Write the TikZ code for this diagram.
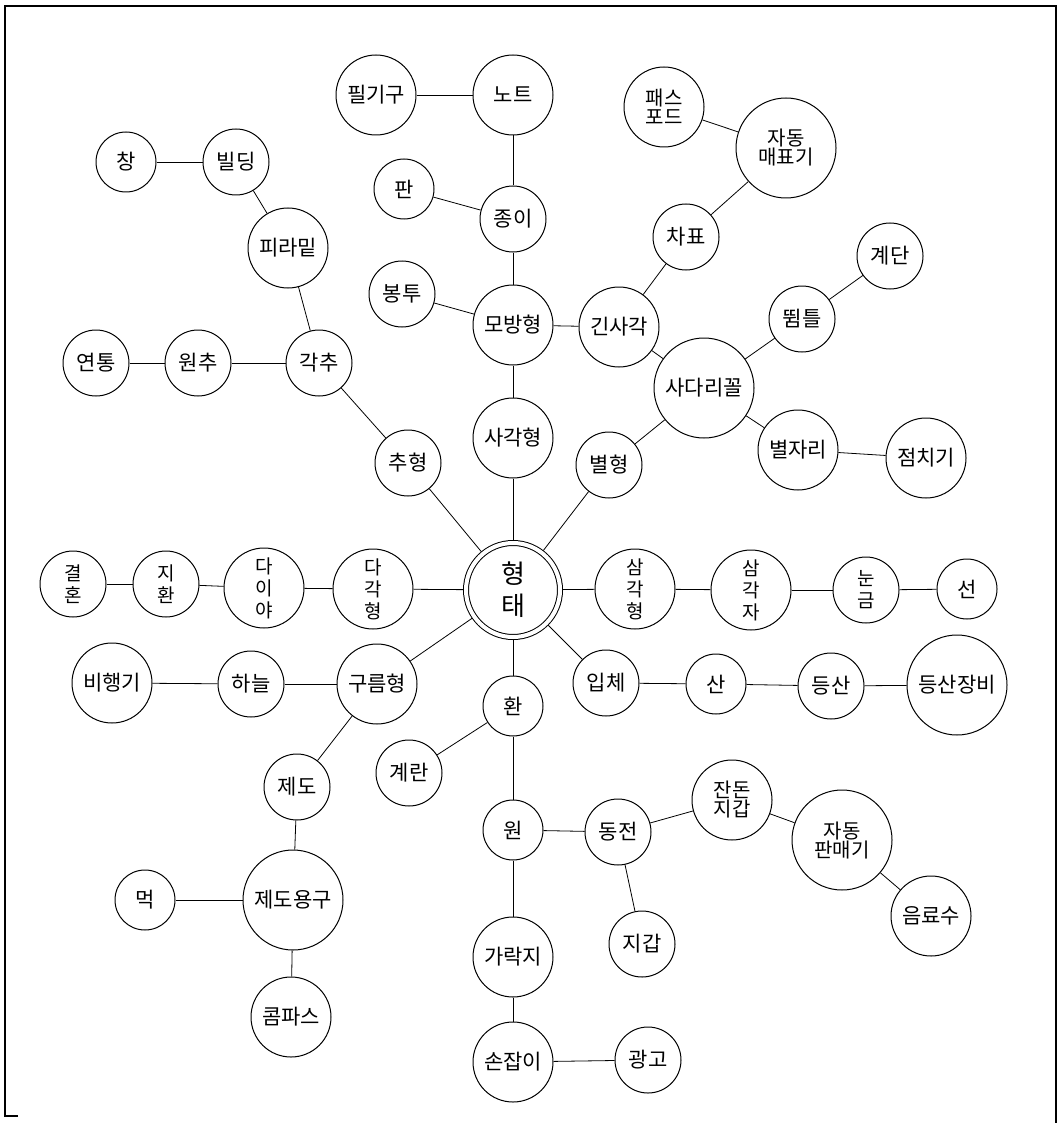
\documentclass[tikz,border=0pt]{standalone}
\usepackage{fontspec}
\setmainfont{Noto Sans CJK KR}
\usetikzlibrary{positioning}

\begin{document}
\begin{tikzpicture}[
    x=1pt, y=-1pt,
    every node/.style={font=\fontsize{21}{23}\selectfont},
    bubble/.style={circle, draw=black, line width=1pt, inner sep=0pt, text centered, align=center},
    bubtiny/.style={bubble, minimum size=60pt},
    bubsmall/.style={bubble, minimum size=66pt},
    bubmid/.style={bubble, minimum size=80pt},
    bubbig/.style={bubble, minimum size=100pt},
    vert/.style={font=\fontsize{19}{22}\selectfont},
    twoline/.style={font=\fontsize{20}{19}\selectfont},
    hub/.style={circle, draw=black, line width=1pt, double, double distance=4pt, minimum size=94pt, outer sep=3pt, align=center, font=\fontsize{26}{32}\selectfont},
    link/.style={line width=0.8pt}
]
\useasboundingbox (0,0) rectangle (1059,1123);
\fill[white] (0,0) rectangle (1059,1123);
\draw[line width=1.2pt] (18,1116) -- (5,1116) -- (5,6) -- (1056,6) -- (1056,1123);

\node[hub] (form) at (513,590) {형\\태};

\node[bubmid] (pilgigu) at (376,95) {필기구};
\node[bubmid] (note) at (513,95) {노트};
\node[bubtiny] (pan) at (404,189) {판};
\node[bubsmall] (paper) at (513,219) {종이};
\node[bubsmall] (envelope) at (402,294) {봉투};
\node[bubmid] (mobang) at (513,325) {모방형};
\node[bubmid] (square) at (513,438) {사각형};
\node[bubmid] (longsq) at (619,327) {긴사각};
\node[bubsmall] (ticket) at (686,237) {차표};
\node[bubbig, twoline] (ticketmachine) at (786,148) {자동\\매표기};
\node[bubmid, twoline] (passport) at (664,107) {패스\\포드};
\node[bubbig] (trapezoid) at (704,388) {사다리꼴};
\node[bubsmall] (vault) at (802,319) {뜀틀};
\node[bubsmall] (stairs) at (890,256) {계단};
\node[bubsmall] (star) at (609,465) {별형};
\node[bubmid] (constellation) at (798,450) {별자리};
\node[bubmid] (fortune) at (926,458) {점치기};

\node[bubtiny] (window) at (126,162) {창};
\node[bubsmall] (building) at (236,162) {빌딩};
\node[bubmid] (pyramid) at (288,248) {피라밑};
\node[bubsmall] (pyramidal) at (319,363) {각추};
\node[bubsmall] (cone) at (198,363) {원추};
\node[bubsmall] (chimney) at (96,363) {연통};
\node[bubsmall] (pendulum) at (408,463) {추형};

\node[bubsmall, vert] (wedding) at (73,584) {결\\혼};
\node[bubsmall, vert] (ringfinger) at (166,584) {지\\환};
\node[bubmid, vert] (diamond) at (264,588) {다\\이\\야};
\node[bubmid, vert] (polygon) at (373,589) {다\\각\\형};
\node[bubmid, vert] (triangle) at (635,589) {삼\\각\\형};
\node[bubmid, vert] (setsquare) at (751,590) {삼\\각\\자};
\node[bubsmall, vert] (scale) at (866,590) {눈\\금};
\node[bubtiny] (line) at (967,589) {선};

\node[bubsmall] (solid) at (606,683) {입체};
\node[bubtiny] (mountain) at (716,684) {산};
\node[bubsmall] (hiking) at (831,686) {등산};
\node[bubbig] (gear) at (957,685) {등산장비};

\node[bubmid] (airplane) at (112,683) {비행기};
\node[bubsmall] (sky) at (251,684) {하늘};
\node[bubmid] (cloud) at (377,684) {구름형};
\node[bubsmall] (drafting) at (297,787) {제도};
\node[bubbig] (tools) at (293,900) {제도용구};
\node[bubtiny] (ink) at (145,900) {먹};
\node[bubmid] (compass) at (291,1017) {콤파스};

\node[bubtiny] (ring) at (513,706) {환};
\node[bubsmall] (egg) at (409,773) {계란};
\node[bubtiny] (circ) at (513,830) {원};
\node[bubsmall] (coin) at (618,832) {동전};
\node[bubmid, twoline] (purse) at (732,800) {잔돈\\지갑};
\node[bubbig, twoline] (vending) at (842,840) {자동\\판매기};
\node[bubmid] (drink) at (931,916) {음료수};
\node[bubsmall] (wallet) at (642,944) {지갑};
\node[bubmid] (fingerring) at (513,957) {가락지};
\node[bubmid] (handle) at (513,1062) {손잡이};
\node[bubsmall] (advert) at (648,1060) {광고};

\draw[link] (pilgigu) -- (note);
\draw[link] (note) -- (paper);
\draw[link] (pan) -- (paper);
\draw[link] (paper) -- (mobang);
\draw[link] (envelope) -- (mobang);
\draw[link] (mobang) -- (longsq);
\draw[link] (mobang) -- (square);
\draw[link] (square) -- (form);
\draw[link] (longsq) -- (ticket);
\draw[link] (ticket) -- (ticketmachine);
\draw[link] (passport) -- (ticketmachine);
\draw[link] (longsq) -- (trapezoid);
\draw[link] (trapezoid) -- (vault);
\draw[link] (vault) -- (stairs);
\draw[link] (trapezoid) -- (constellation);
\draw[link] (constellation) -- (fortune);
\draw[link] (trapezoid) -- (star);
\draw[link] (star) -- (form);

\draw[link] (window) -- (building);
\draw[link] (building) -- (pyramid);
\draw[link] (pyramid) -- (pyramidal);
\draw[link] (chimney) -- (cone);
\draw[link] (cone) -- (pyramidal);
\draw[link] (pyramidal) -- (pendulum);
\draw[link] (pendulum) -- (form);

\draw[link] (wedding) -- (ringfinger);
\draw[link] (ringfinger) -- (diamond);
\draw[link] (diamond) -- (polygon);
\draw[link] (polygon) -- (form);
\draw[link] (form) -- (triangle);
\draw[link] (triangle) -- (setsquare);
\draw[link] (setsquare) -- (scale);
\draw[link] (scale) -- (line);

\draw[link] (form) -- (solid);
\draw[link] (solid) -- (mountain);
\draw[link] (mountain) -- (hiking);
\draw[link] (hiking) -- (gear);

\draw[link] (form) -- (cloud);
\draw[link] (airplane) -- (sky);
\draw[link] (sky) -- (cloud);
\draw[link] (cloud) -- (drafting);
\draw[link] (drafting) -- (tools);
\draw[link] (ink) -- (tools);
\draw[link] (tools) -- (compass);

\draw[link] (form) -- (ring);
\draw[link] (ring) -- (egg);
\draw[link] (ring) -- (circ);
\draw[link] (circ) -- (coin);
\draw[link] (coin) -- (purse);
\draw[link] (purse) -- (vending);
\draw[link] (vending) -- (drink);
\draw[link] (coin) -- (wallet);
\draw[link] (circ) -- (fingerring);
\draw[link] (fingerring) -- (handle);
\draw[link] (handle) -- (advert);

\end{tikzpicture}
\end{document}
